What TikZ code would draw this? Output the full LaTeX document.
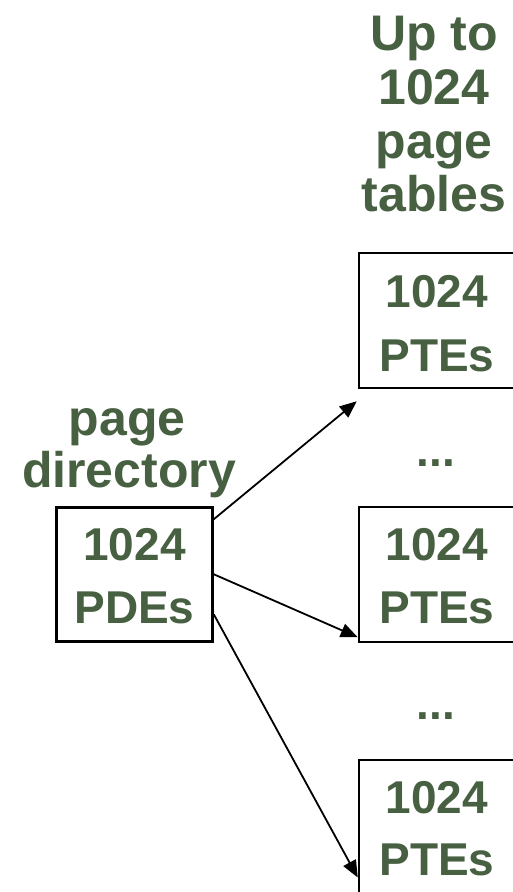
\documentclass[tikz,border=0pt]{standalone}
\usepackage{fontspec}
\setmainfont{Liberation Sans}
\usetikzlibrary{arrows.meta}
\definecolor{lbl}{RGB}{72,96,66}
\tikzset{
  txt/.style={anchor=base, inner sep=0pt, text=lbl, font=\bfseries\fontsize{46}{54}\selectfont},
  big/.style={txt, font=\bfseries\fontsize{50}{58}\selectfont},
  box/.style={draw=black, line width=2.5pt, rectangle, inner sep=0pt},
  arr/.style={draw=black, line width=1.8pt, -{Triangle[length=17pt,width=14pt]}}
}
\begin{document}
\begin{tikzpicture}[x=1pt,y=-1pt]
\useasboundingbox (0,0) rectangle (512,892);
\fill[white] (0,0) rectangle (512,892);
% header on the right
\node[big] (h1) at (434,50) {Up to};
\node[big] (h2) at (434,104) {1024};
\node[big] (h3) at (434,158) {page};
\node[big] (h4) at (434,211) {tables};
% left label
\node[big] (l1) at (127,435) {page};
\node[big] (l2) at (129,487) {directory};
% page directory box
\node[box, minimum width=156pt, minimum height=134pt] (pd) at (134.5,574.5) {};
\node[txt] (pd1) at (134.5,560) {1024};
\node[txt] (pd2) at (134.5,623) {PDEs};
% page table boxes (extend beyond right edge)
\node[box, minimum width=200pt, minimum height=135pt] (pt1) at (459,320.5) {};
\node[txt] (pt1a) at (437,307) {1024};
\node[txt] (pt1b) at (437,371) {PTEs};
\node[box, minimum width=200pt, minimum height=135pt] (pt2) at (459,574.5) {};
\node[txt] (pt2a) at (437,560) {1024};
\node[txt] (pt2b) at (437,623) {PTEs};
\node[box, minimum width=200pt, minimum height=135pt] (pt3) at (459,827.5) {};
\node[txt] (pt3a) at (437,813) {1024};
\node[txt] (pt3b) at (437,875) {PTEs};
% dots
\node[txt] (d1) at (436,466) {...};
\node[txt] (d2) at (436,719) {...};
% arrows
\coordinate (s1) at ([yshift=-13pt]pd.north east);
\coordinate (s2) at ([yshift=-68pt]pd.north east);
\coordinate (s3) at ([yshift=-108pt]pd.north east);
\coordinate (e1) at ([xshift=-1pt,yshift=-12pt]pt1.south west);
\coordinate (e2) at ([yshift=6pt]pt2.south west);
\coordinate (e3) at ([yshift=-50pt]pt3.west);
\draw[arr] (s1) -- (e1);
\draw[arr] (s2) -- (e2);
\draw[arr] (s3) -- (e3);
\end{tikzpicture}
\end{document}
